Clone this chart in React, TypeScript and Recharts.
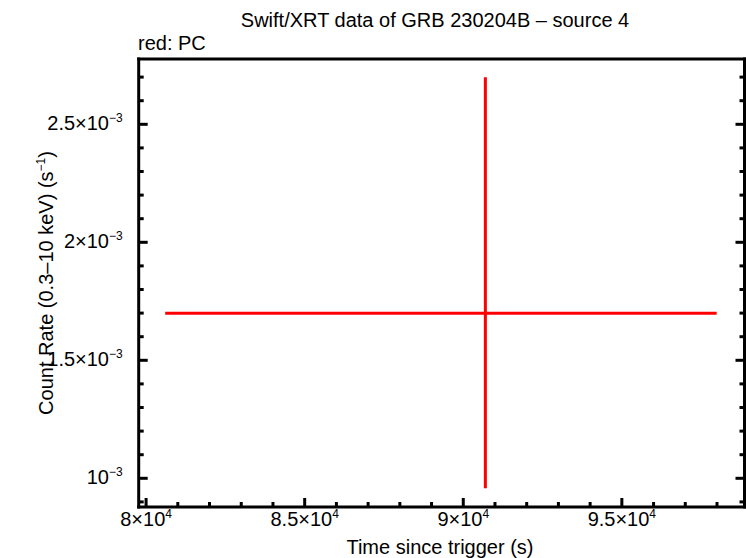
import { ScatterChart, Scatter, XAxis, YAxis, ErrorBar } from "recharts";

// single PC-mode bin
const times = [90697];
const timeErrLow = [10095];
const timeErrHigh = [7292];
const rates = [0.0016992];
const rateErrLow = [0.0007416];
const rateErrHigh = [0.001];

const xMajorTicks = [80000, 85000, 90000, 95000];
const xMajorLabels = ["8", "8.5", "9", "9.5"];
const xExponent = "4";
const xMinorTicks = [
  81000, 82000, 83000, 84000, 86000, 87000, 88000, 89000, 91000, 92000, 93000,
  94000, 96000, 97000, 98000,
];

const yMajorTicks = [0.001, 0.0015, 0.002, 0.0025];
const yMajorLabels = ["", "1.5", "2", "2.5"];
const yExponent = "\u22123";
const yMinorTicks = [
  0.0009, 0.0011, 0.0012, 0.0013, 0.0014, 0.0016, 0.0017, 0.0018, 0.0019,
  0.0021, 0.0022, 0.0023, 0.0024, 0.0026, 0.0027,
];

const xDomain = [79767, 98867];
const yDomain = [0.0008784, 0.0027767];

const FONT = "'Liberation Sans', Arial, Helvetica, sans-serif";
const RED = "#ff0000";
const MAJOR = 9;
const MINOR = 5;

const data = times.map((t, i) => ({
  time: t,
  rate: rates[i],
  timeErr: [timeErrLow[i], timeErrHigh[i]],
  rateErr: [rateErrLow[i], rateErrHigh[i]],
}));

const majorIndex = (list: number[], v: number) =>
  list.findIndex((m) => Math.abs(m - v) < Math.abs(m) * 1e-6);

const SciLabel = ({ x, y, mant, exp, anchor }: any) => (
  <text x={x} y={y} textAnchor={anchor} fontFamily={FONT} fontSize={20} fill="#000">
    <tspan>{mant ? `${mant}\u00d710` : "10"}</tspan>
    <tspan dy={-8} fontSize={12}>
      {exp}
    </tspan>
  </text>
);

const BottomTick = (props: any) => {
  const { x, y, payload } = props;
  const idx = majorIndex(xMajorTicks, payload.value);
  const len = idx >= 0 ? MAJOR : MINOR;
  return (
    <g>
      <line x1={x} y1={y} x2={x} y2={y - len} stroke="#000" strokeWidth={3} />
      {idx >= 0 && (
        <SciLabel x={x} y={y + 19} mant={xMajorLabels[idx]} exp={xExponent} anchor="middle" />
      )}
    </g>
  );
};

const TopTick = (props: any) => {
  const { x, y, payload } = props;
  const len = majorIndex(xMajorTicks, payload.value) >= 0 ? MAJOR : MINOR;
  return <line x1={x} y1={y} x2={x} y2={y + len} stroke="#000" strokeWidth={3} />;
};

const LeftTick = (props: any) => {
  const { x, y, payload } = props;
  const idx = majorIndex(yMajorTicks, payload.value);
  const len = idx >= 0 ? MAJOR : MINOR;
  return (
    <g>
      <line x1={x} y1={y} x2={x + len} y2={y} stroke="#000" strokeWidth={3} />
      {idx >= 0 && (
        <SciLabel x={x - 16} y={y + 6} mant={yMajorLabels[idx]} exp={yExponent} anchor="end" />
      )}
    </g>
  );
};

const RightTick = (props: any) => {
  const { x, y, payload } = props;
  const len = majorIndex(yMajorTicks, payload.value) >= 0 ? MAJOR : MINOR;
  return <line x1={x} y1={y} x2={x - len} y2={y} stroke="#000" strokeWidth={3} />;
};

const frame = { stroke: "#000", strokeWidth: 3, strokeLinecap: "square" as const };

export default function App() {
  const xTicks = [...xMajorTicks, ...xMinorTicks];
  const yTicks = [...yMajorTicks, ...yMinorTicks];
  return (
    <div style={{ position: "absolute", left: 0, top: 0, width: 746, height: 558, background: "#fff" }}>
      <ScatterChart
        width={746}
        height={558}
        margin={{ top: 58, right: 0.5, bottom: 50, left: 137.7 }}
      >
        <XAxis
          xAxisId="bottom"
          type="number"
          dataKey="time"
          orientation="bottom"
          domain={xDomain}
          allowDataOverflow
          ticks={xTicks}
          interval={0}
          height={1}
          tickSize={0}
          tickMargin={0}
          tickLine={false}
          axisLine={frame}
          tick={<BottomTick />}
        />
        <XAxis
          xAxisId="top"
          type="number"
          orientation="top"
          domain={xDomain}
          allowDataOverflow
          ticks={xTicks}
          interval={0}
          height={1}
          tickSize={0}
          tickMargin={0}
          tickLine={false}
          axisLine={frame}
          tick={<TopTick />}
        />
        <YAxis
          yAxisId="left"
          type="number"
          dataKey="rate"
          orientation="left"
          domain={yDomain}
          allowDataOverflow
          ticks={yTicks}
          interval={0}
          width={1}
          tickSize={0}
          tickMargin={0}
          tickLine={false}
          axisLine={frame}
          tick={<LeftTick />}
        />
        <YAxis
          yAxisId="right"
          type="number"
          orientation="right"
          domain={yDomain}
          allowDataOverflow
          ticks={yTicks}
          interval={0}
          width={1}
          tickSize={0}
          tickMargin={0}
          tickLine={false}
          axisLine={frame}
          tick={<RightTick />}
        />
        <Scatter
          xAxisId="bottom"
          yAxisId="left"
          data={data}
          isAnimationActive={false}
          shape={() => <g />}
        >
          <ErrorBar dataKey="timeErr" direction="x" width={0} stroke={RED} strokeWidth={3} isAnimationActive={false} />
          <ErrorBar dataKey="rateErr" direction="y" width={0} stroke={RED} strokeWidth={3} isAnimationActive={false} />
        </Scatter>
      </ScatterChart>
      <svg
        width={746}
        height={558}
        style={{ position: "absolute", left: 0, top: 0, pointerEvents: "none" }}
      >
        <text x={435} y={27} textAnchor="middle" fontFamily={FONT} fontSize={20} fill="#000">
          Swift/XRT data of GRB 230204B {"\u2013"} source 4
        </text>
        <text x={138} y={50} fontFamily={FONT} fontSize={20} fill="#000">
          red: PC
        </text>
        <text x={440} y={554} textAnchor="middle" fontFamily={FONT} fontSize={20} fill="#000">
          Time since trigger (s)
        </text>
        <text
          transform="translate(53,283) rotate(-90)"
          textAnchor="middle"
          fontFamily={FONT}
          fontSize={20}
          fill="#000"
        >
          Count Rate (0.3{"\u2013"}10 keV) (s
          <tspan dy={-8} fontSize={12}>
            {"\u22121"}
          </tspan>
          <tspan dy={8}>)</tspan>
        </text>
      </svg>
    </div>
  );
}
